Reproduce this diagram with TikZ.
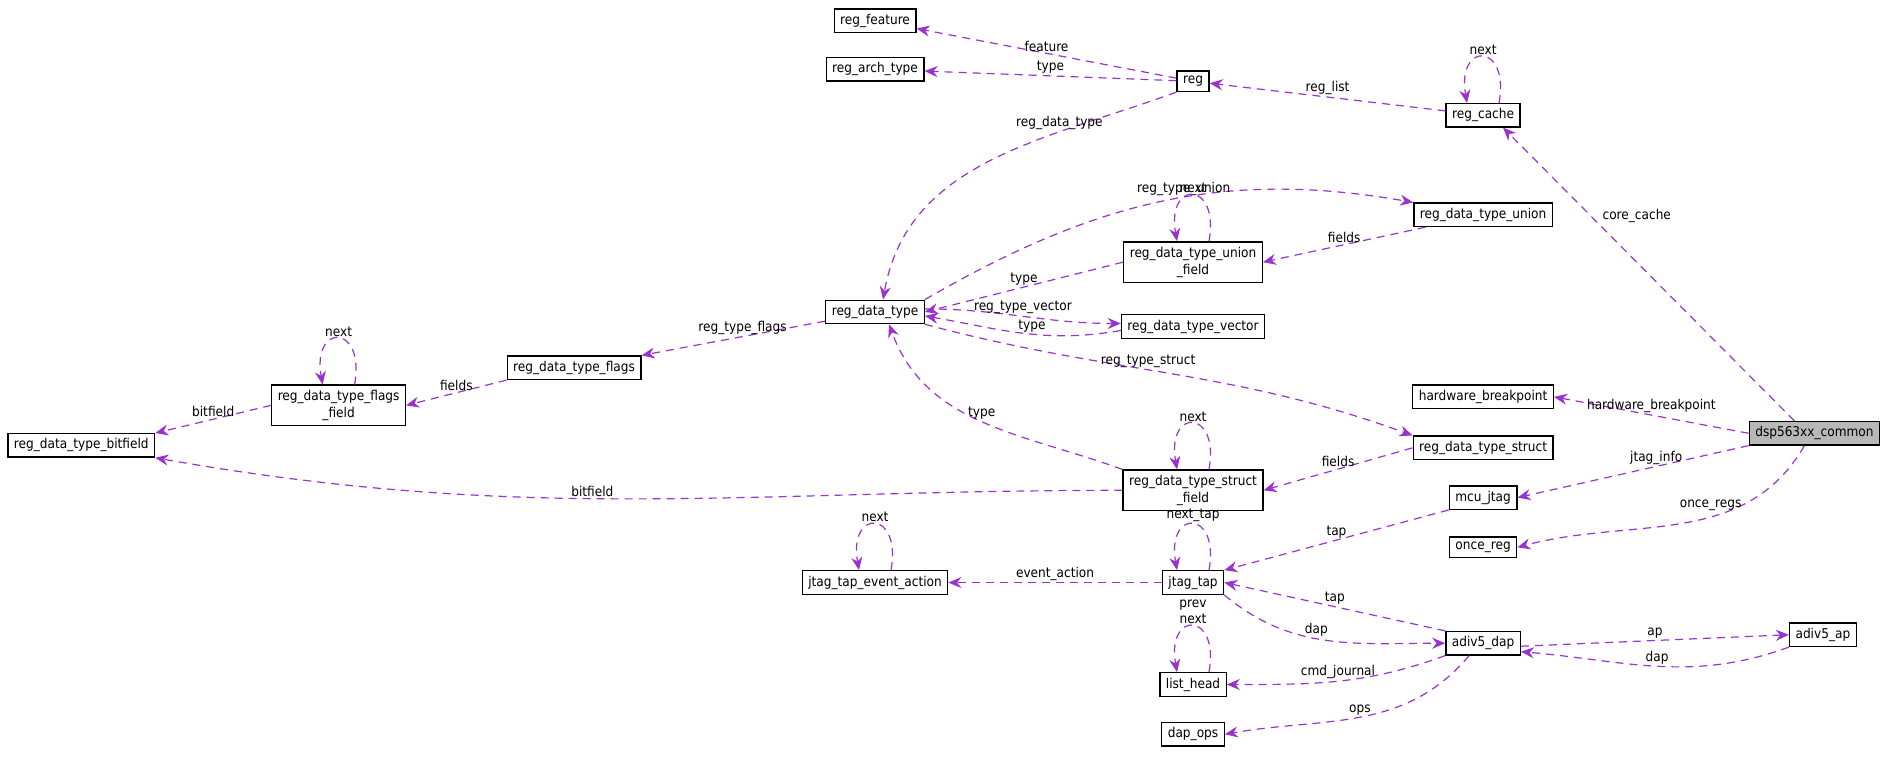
\documentclass[tikz,border=0pt]{standalone}
\usepackage{fontspec}
\setmainfont{DejaVu Sans Condensed}
\usetikzlibrary{arrows.meta, positioning}
\definecolor{edgepurple}{HTML}{9A32CD}
\tikzset{
  cls/.style={draw, line width=1.3pt, fill=white, font=\fontsize{13.5}{17}\selectfont, inner xsep=6pt, inner ysep=5pt, align=center},
  self/.style={cls, fill=black!28},
  rel/.style={draw=edgepurple, line width=1.2pt, dash pattern=on 8pt off 6pt, -{Stealth[length=13pt,width=11pt]}, color=edgepurple},
  lbl/.style={font=\fontsize{13.5}{16}\selectfont, text=black, align=center, inner sep=1.5pt},
}
\begin{document}
\begin{tikzpicture}[x=1.2136pt,y=-1.2136pt]
\useasboundingbox (0,0) rectangle (1568,623);

% classes
\node[cls] (feature)    at (721,17)  {reg\_feature};
\node[cls] (archtype)   at (721,57)  {reg\_arch\_type};
\node[cls] (reg)        at (983,67)  {reg};
\node[cls] (cache)      at (1222,95) {reg\_cache};
\node[cls] (union)      at (1222,177) {reg\_data\_type\_union};
\node[cls] (unionfield) at (983,216) {reg\_data\_type\_union\\\_field};
\node[cls] (datatype)   at (721,257) {reg\_data\_type};
\node[cls] (vector)     at (983,269) {reg\_data\_type\_vector};
\node[cls] (flags)      at (473,303) {reg\_data\_type\_flags};
\node[cls] (flagsfield) at (279,334) {reg\_data\_type\_flags\\\_field};
\node[cls] (bitfield)   at (67,367)  {reg\_data\_type\_bitfield};
\node[cls] (hwbp)       at (1222,327) {hardware\_breakpoint};
\node[self] (dsp)       at (1495,357) {dsp563xx\_common};
\node[cls] (struct)     at (1222,369) {reg\_data\_type\_struct};
\node[cls] (structfield) at (983,404) {reg\_data\_type\_struct\\\_field};
\node[cls] (mcujtag)    at (1222,410) {mcu\_jtag};
\node[cls] (oncereg)    at (1222,451) {once\_reg};
\node[cls] (evaction)   at (721,480) {jtag\_tap\_event\_action};
\node[cls] (tap)        at (983,480) {jtag\_tap};
\node[cls] (dap)        at (1222,530) {adiv5\_dap};
\node[cls] (ap)         at (1502,523) {adiv5\_ap};
\node[cls] (listhead)   at (983,564) {list\_head};
\node[cls] (dapops)     at (983,605) {dap\_ops};

% relations
\draw[rel] (reg) -- node[lbl, above, pos=0.5] {feature} (feature);
\draw[rel] (reg) -- node[lbl, above, pos=0.5] {type} (archtype);
\draw[rel] (cache) -- node[lbl, above] {reg\_list} (reg);
\draw[rel] ([xshift=16pt]cache.north) to[out=80, in=100, looseness=5] node[lbl, above] {next} ([xshift=-16pt]cache.north);
\draw[rel] (reg.south west) to[out=200, in=80] node[lbl, pos=0.3, above] {reg\_data\_type} ([xshift=8pt]datatype.north);
\draw[rel] (datatype.north east) to[out=30, in=170] node[lbl, above, pos=0.55] {reg\_type\_union} (union.north west);
\draw[rel] (union) -- node[lbl, above] {fields} (unionfield.east);
\draw[rel] ([xshift=16pt]unionfield.north) to[out=80, in=100, looseness=5] node[lbl, above] {next} ([xshift=-16pt]unionfield.north);
\draw[rel] (unionfield.west) -- node[lbl, above] {type} (datatype.east);
\draw[rel] ([yshift=3pt]datatype.east) to[out=0, in=180] node[lbl, above] {reg\_type\_vector} ([yshift=3pt]vector.west);
\draw[rel] ([yshift=-4pt]vector.west) to[out=190, in=-10] node[lbl, above, pos=0.45] {type} ([yshift=-4pt]datatype.east);
\draw[rel] (datatype) -- node[lbl, above, pos=0.45] {reg\_type\_flags} (flags.north east);
\draw[rel] (flags.south west) -- node[lbl, above] {fields} (flagsfield.east);
\draw[rel] ([xshift=16pt]flagsfield.north) to[out=80, in=100, looseness=5] node[lbl, above] {next} ([xshift=-16pt]flagsfield.north);
\draw[rel] (flagsfield.west) -- node[lbl, above] {bitfield} (bitfield.north east);
\draw[rel] (datatype.south east) to[out=-15, in=160] node[lbl, above, pos=0.45] {reg\_type\_struct} (struct.north west);
\draw[rel] (structfield.north west) to[out=160, in=-70] node[lbl, above, pos=0.5] {type} ([xshift=14pt]datatype.south);
\draw[rel] (struct.west) -- node[lbl, above] {fields} (structfield.east);
\draw[rel] ([xshift=16pt]structfield.north) to[out=80, in=100, looseness=5] node[lbl, above] {next} ([xshift=-16pt]structfield.north);
\draw[rel] (structfield.west) to[out=180, in=-10] node[lbl, above, pos=0.55] {bitfield} (bitfield.south east);
\draw[rel] ([xshift=-20pt]dsp.north) -- node[lbl, pos=0.7, right=10pt] {core\_cache} ([xshift=20pt]cache.south);
\draw[rel] (dsp.west) -- node[lbl, above] {hardware\_breakpoint} (hwbp.east);
\draw[rel] (dsp.south west) -- node[lbl, above, pos=0.4] {jtag\_info} (mcujtag.east);
\draw[rel] ([xshift=-10pt]dsp.south) to[out=-120, in=15] node[lbl, above, pos=0.35, xshift=-14pt] {once\_regs} (oncereg.east);
\draw[rel] (mcujtag.south west) -- node[lbl, above] {tap} (tap.north east);
\draw[rel] ([xshift=16pt]tap.north) to[out=80, in=100, looseness=5] node[lbl, above] {next\_tap} ([xshift=-16pt]tap.north);
\draw[rel] (tap) -- node[lbl, above] {event\_action} (evaction);
\draw[rel] ([xshift=16pt]evaction.north) to[out=80, in=100, looseness=5] node[lbl, above] {next} ([xshift=-16pt]evaction.north);
\draw[rel] (dap.north west) -- node[lbl, above] {tap} (tap.east);
\draw[rel] (tap.south east) to[out=-40, in=180] node[lbl, above, pos=0.45] {dap} (dap.west);
\draw[rel] ([yshift=-3pt]dap.east) -- node[lbl, above] {ap} (ap.west);
\draw[rel] (ap.south west) to[out=200, in=-5] node[lbl, above, pos=0.5] {dap} ([yshift=4pt]dap.south east);
\draw[rel] ([xshift=16pt]listhead.north) to[out=80, in=100, looseness=5] node[lbl, above] {prev\\next} ([xshift=-16pt]listhead.north);
\draw[rel] (dap.south west) to[out=200, in=0] node[lbl, above, pos=0.5] {cmd\_journal} (listhead.east);
\draw[rel] ([xshift=-14pt]dap.south) to[out=-130, in=10] node[lbl, above, pos=0.5] {ops} (dapops.east);
\end{tikzpicture}
\end{document}
